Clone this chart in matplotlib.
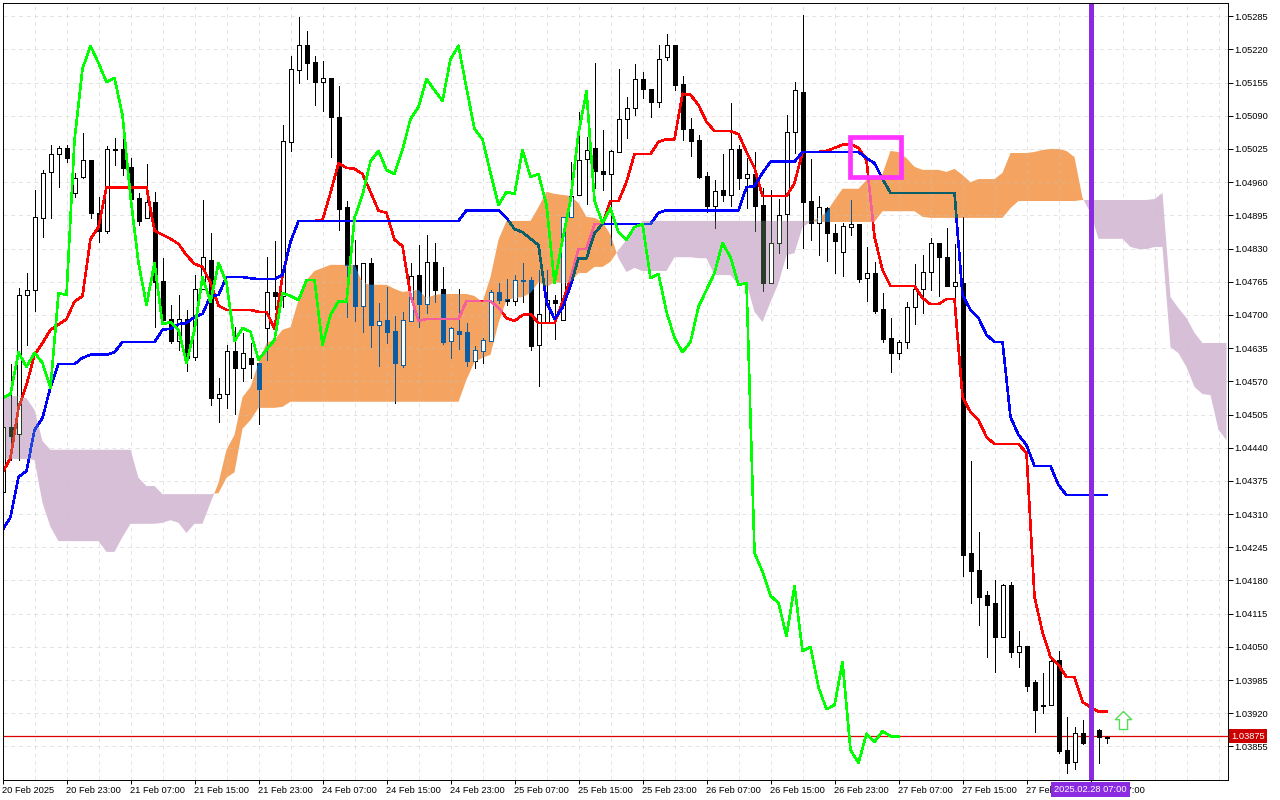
import numpy as np
from matplotlib import pyplot as plt
from matplotlib.path import Path

plt.rcParams['font.family'] = ['Liberation Sans', 'DejaVu Sans']
FS = 6.7

# all quotes are stored in points above 1.00000 (4830 means 1.04830), one entry per H1 bar
opens = [4354,4481,4467,4739,4749,4890,4980,5015,5027,4939,4970,5004,4900,4865,5025,5025,4990,4929,4890,4921,
         4767,4692,4649,4692,4618,4751,4808,4538,4546,4630,4596,4616,4606,4675,4745,4737,5039,5180,5229,5196,
         5156,5164,5088,4911,4798,4718,4802,4681,4690,4669,4602,4688,4779,4722,4804,4751,4649,4669,4667,4610,
         4630,4649,4745,4731,4727,4769,4769,4641,4684,4729,4690,4892,4935,5006,5027,4982,4976,5019,5084,5105,
         5162,5143,5117,5205,5229,5153,5064,5043,4972,4914,4945,4935,5025,4968,4976,4916,4763,4841,4898,5058,
         5137,4923,4880,4910,4861,4824,4872,4878,4773,4782,4712,4655,4626,4647,4716,4751,4784,4841,4814,4757,
         4763,4234,4201,4152,4136,4069,4172,4040,4052,3982,3936,3936,4025,3849,3825,3882,3882,3888,3874]
highs = [4514,4604,4753,4782,4945,4984,5033,5031,5033,4978,5056,5004,4931,5031,5047,5049,5007,4939,4996,4941,
         4812,4720,4739,4710,4779,4925,4861,4577,4641,4677,4665,4645,4606,4814,4845,5072,5207,5284,5256,5207,
         5197,5164,5149,4923,4847,4802,4812,4724,4755,4698,4706,4802,4837,4857,4841,4794,4677,4751,4684,4639,
         4655,4749,4763,4771,4779,4802,4775,4788,4788,4739,4892,5000,5097,5049,5194,5062,5023,5182,5127,5192,
         5176,5143,5229,5250,5229,5168,5086,5053,4980,4964,5015,5115,5033,5007,5019,4949,4945,4927,5092,5156,
         5287,5006,4933,4911,4878,4880,4925,4878,4833,4804,4743,4694,4651,4726,4800,4818,4851,4841,4870,4839,
         4892,4414,4275,4160,4181,4174,4177,4081,4052,3986,3999,4025,4042,3913,3894,3907,3897,3890,3876]
lows = [4354,4416,4416,4641,4708,4853,4890,4951,5000,4931,4968,4890,4843,4861,4994,4974,4927,4876,4890,4677,
        4690,4645,4632,4590,4612,4751,4524,4491,4518,4506,4571,4577,4487,4612,4712,4716,5021,5154,5162,5111,
        5100,5010,4867,4696,4688,4667,4638,4600,4645,4528,4598,4688,4677,4704,4726,4643,4616,4634,4600,4596,
        4606,4649,4724,4720,4720,4726,4632,4561,4684,4653,4690,4892,4935,4917,4949,4945,4837,5019,5047,5092,
        5125,5088,5107,5199,5141,5043,5012,4968,4902,4870,4923,4914,4947,4910,4865,4747,4763,4822,4792,5017,
        4831,4847,4818,4806,4782,4777,4857,4765,4727,4704,4647,4588,4614,4635,4682,4704,4749,4737,4757,4696,
        4189,4136,4093,4030,4001,4069,4030,4011,3964,3884,3921,3936,3843,3803,3810,3860,3858,3823,3862]
closes = [4481,4463,4739,4749,4892,4978,5015,5027,5007,4968,5004,4900,4865,5025,5023,4988,4927,4884,4921,4765,
          4690,4649,4692,4616,4751,4814,4538,4546,4630,4596,4626,4604,4555,4745,4737,5041,5182,5229,5194,5156,
          5164,5088,4908,4798,4718,4802,4681,4688,4667,4606,4690,4777,4722,4804,4749,4647,4675,4663,4610,4632,
          4651,4745,4729,4727,4769,4767,4639,4702,4729,4724,4892,4933,5004,5023,4982,4976,5021,5084,5105,5162,
          5143,5117,5201,5229,5151,5064,5041,4970,4914,4943,4935,5025,4968,4976,4914,4763,4841,4896,5058,5141,
          4921,4880,4911,4861,4845,4874,4878,4771,4782,4708,4653,4626,4647,4716,4751,4784,4841,4814,4757,4765,
          4230,4199,4148,4132,4069,4172,4040,4052,3974,3927,3934,4023,3847,3823,3882,3862,3874,3874,3872]

tenkan = [4391,4420,4518,4563,4622,4645,4671,4681,4692,4726,4737,4849,4872,4950,4950,4950,4950,4950,4950,4865,
          4857,4849,4839,4817,4800,4794,4763,4718,4710,4710,4710,4710,4706,4706,4673,4777,4843,4884,4884,4884,
          4886,4939,4997,4988,4986,4976,4941,4904,4900,4847,4835,4739,4688,4692,4692,4692,4692,4692,4727,4727,
          4727,4727,4714,4694,4688,4700,4702,4684,4684,4684,4725,4772,4829,4829,4878,4878,4923,4923,4960,5015,
          5015,5015,5039,5044,5044,5133,5131,5111,5078,5060,5060,5060,5054,5019,4988,4933,4933,4933,4933,4958,
          5019,5019,5019,5021,5027,5033,5035,5027,5003,4853,4788,4757,4757,4757,4757,4733,4721,4721,4731,4731,
          4539,4510,4494,4461,4447,4447,4447,4447,4430,4148,4079,4030,4015,3991,3991,3942,3932,3923,3923]
kijun = [4279,4304,4383,4394,4475,4498,4559,4604,4604,4604,4616,4622,4622,4622,4627,4647,4647,4647,4647,4647,
         4671,4673,4682,4684,4696,4702,4737,4739,4774,4774,4774,4772,4770,4770,4770,4778,4843,4884,4884,4884,
         4884,4884,4884,4884,4884,4884,4884,4884,4884,4884,4884,4884,4884,4884,4884,4884,4884,4884,4905,4905,
         4905,4905,4905,4890,4868,4862,4849,4837,4725,4692,4714,4757,4811,4811,4860,4878,4878,4878,4878,4878,
         4878,4878,4900,4905,4905,4905,4905,4905,4905,4905,4905,4905,4905,4950,4952,4978,5000,5000,5000,5000,
         5019,5019,5019,5019,5019,5019,5019,5019,5007,4997,4966,4939,4939,4939,4939,4939,4939,4939,4939,4939,
         4739,4710,4694,4661,4647,4647,4500,4465,4445,4404,4404,4404,4367,4347,4347,4347,4347,4347,4347]
chikou = [4537,4545,4627,4598,4626,4606,4557,4743,4739,5042,5182,5227,5193,5156,5164,5091,4931,4802,4719,4802,
          4682,4686,4671,4606,4671,4774,4725,4802,4763,4649,4674,4667,4612,4632,4651,4743,4737,4729,4768,4768,
          4641,4700,4727,4725,4890,4935,5001,5021,4984,4976,5023,5084,5107,5162,5140,5119,5201,5227,5144,5064,
          5044,4978,4915,4941,4937,5023,4970,4976,4915,4762,4847,4925,5056,5138,4923,4880,4909,4862,4847,4872,
          4878,4772,4780,4706,4655,4627,4647,4716,4749,4782,4841,4813,4759,4762,4234,4197,4150,4136,4071,4169,
          4042,4050,3971,3928,3936,4020,3848,3823,3880,3864,3885,3875,3875]
span_a = [4418,4418,4418,4418,4416,4332,4285,4257,4257,4257,4257,4257,4257,4236,4236,4265,4291,4291,4291,4291,
          4293,4298,4293,4273,4291,4291,4332,4371,4436,4465,4539,4559,4606,4645,4651,4671,4676,4729,4768,4786,
          4792,4798,4798,4798,4798,4763,4759,4759,4759,4751,4745,4747,4749,4733,4739,4741,4741,4741,4741,4737,
          4725,4774,4847,4884,4884,4884,4884,4911,4941,4937,4935,4933,4919,4892,4890,4882,4857,4811,4784,4792,
          4786,4786,4786,4786,4813,4813,4813,4811,4811,4778,4778,4778,4759,4762,4706,4686,4725,4762,4817,4821,
          4872,4882,4890,4901,4925,4947,4947,4947,4964,4968,4976,5021,5019,5007,4990,4984,4984,4984,4980,4986,
          4974,4960,4966,4966,4966,4978,5017,5017,5017,5019,5023,5025,5025,5021,5009,4929,4900,4849,4849,4849,
          4849,4833,4829,4829,4833,4833,4637,4625,4598,4559,4545,4543,4475,4455]
span_b = [4541,4541,4541,4537,4514,4453,4436,4436,4436,4436,4436,4436,4436,4436,4436,4436,4436,4381,4365,4365,
          4349,4349,4349,4349,4349,4349,4349,4351,4381,4392,4477,4494,4518,4518,4518,4520,4530,4530,4530,4530,
          4530,4530,4530,4530,4530,4530,4530,4530,4530,4530,4530,4530,4530,4530,4530,4530,4530,4530,4573,4608,
          4616,4622,4684,4729,4733,4735,4743,4764,4755,4764,4762,4764,4782,4782,4794,4794,4804,4827,4847,4866,
          4884,4884,4884,4884,4884,4884,4884,4884,4884,4884,4884,4884,4884,4884,4884,4884,4884,4884,4884,4884,
          4884,4884,4882,4882,4882,4882,4882,4882,4882,4882,4903,4903,4903,4903,4903,4892,4890,4890,4890,4890,
          4890,4890,4890,4890,4890,4890,4909,4923,4923,4923,4923,4923,4923,4923,4923,4925,4925,4925,4925,4925,
          4925,4925,4925,4925,4927,4939,4735,4713,4694,4665,4645,4645,4645,4645]

date_labels = ['20 Feb 2025','20 Feb 23:00','21 Feb 07:00','21 Feb 15:00','21 Feb 23:00','24 Feb 07:00',
               '24 Feb 15:00','24 Feb 23:00','25 Feb 07:00','25 Feb 15:00','25 Feb 23:00','26 Feb 07:00',
               '26 Feb 15:00','26 Feb 23:00','27 Feb 07:00','27 Feb 15:00','27 Feb 23:00','28 Feb 07:00']
price_ticks = [3855,3920,3985,4050,4115,4180,4245,4310,4375,4440,4505,4570,4635,4700,4765,4830,4895,4960,
               5025,5090,5155,5220,5285]
last_price = 3875
marked_bar = 136
marked_time = '2025.02.28 07:00'
box_bars = [105.9, 112.25]
box_prices = [4970, 5049]
arrow_bar = 140
arrow_price = 3907


def px(v):
    # quote points to a real price
    return 1 + np.asarray(v) / 1e5


def draw_candles(ax, color, z, clip=None):
    k = np.arange(len(opens))
    o, c = px(opens), px(closes)
    wicks = ax.vlines(k, px(lows), px(highs), colors=color, lw=0.7, zorder=z, antialiased=False)
    faces = ['white' if closes[i] >= opens[i] and opens[i] != closes[i] else color for i in k]
    bars = ax.bar(k, np.abs(c - o), bottom=np.minimum(o, c), width=0.5, color=faces, edgecolor=color,
                  lw=0.7, zorder=z, antialiased=False)
    if clip is not None:
        wicks.set_clip_path(clip, ax.transData)
        for b in bars:
            b.set_clip_path(clip, ax.transData)


def draw_line(ax, values, color, z, clip=None, lw=1.15):
    line, = ax.plot(np.arange(len(values)), px(values), color=color, lw=lw, zorder=z,
                    solid_joinstyle='round', antialiased=False)
    if clip is not None:
        line.set_clip_path(clip, ax.transData)


W, H = 1280, 800
fig = plt.figure(figsize=(W / 100, H / 100), dpi=100)
ax = fig.add_axes([2.5 / W, 1 - 779.5 / H, 1225 / W, 777 / H])

# cloud
k_cloud = np.arange(len(span_a))
a, b = px(span_a), px(span_b)
orange = ax.fill_between(k_cloud, a, b, where=a >= b, interpolate=True, color='#F4A460', lw=0, zorder=1)
lilac = ax.fill_between(k_cloud, a, b, where=a <= b, interpolate=True, color='#D8BFD8', lw=0, zorder=1)
orange_clip = Path.make_compound_path(*orange.get_paths())
lilac_clip = Path.make_compound_path(*lilac.get_paths())

ax.axhline(px(last_price), color='#DC0000', lw=0.9, zorder=1.8)

# candles change colour where they cross the cloud
draw_candles(ax, 'black', 2)
draw_candles(ax, '#0A5CA3', 2.1, orange_clip)
draw_candles(ax, '#2A3C2A', 2.1, lilac_clip)

draw_line(ax, tenkan, '#FF0000', 3.0)
draw_line(ax, tenkan, '#F4609C', 3.01, orange_clip)
draw_line(ax, tenkan, '#D8402C', 3.01, lilac_clip)
draw_line(ax, kijun, '#0000FF', 3.02)
draw_line(ax, kijun, '#0B5F6B', 3.03, orange_clip)
draw_line(ax, kijun, '#2040E0', 3.03, lilac_clip)
draw_line(ax, chikou, '#00FF00', 3.04)

# objects on top
ax.axvline(marked_bar, color='#8A2BE2', lw=3.6, zorder=4)
ax.add_patch(plt.Rectangle((box_bars[0], px(box_prices[0])), box_bars[1] - box_bars[0],
                           px(box_prices[1]) - px(box_prices[0]), fill=False, edgecolor='#FF33FF',
                           lw=3.4, zorder=5, joinstyle='miter'))
arrow = [(0, 1), (0.9, 0.1), (0.45, 0.1), (0.45, -1), (-0.45, -1), (-0.45, 0.1), (-0.9, 0.1), (0, 1)]
ax.plot([arrow_bar], [px(arrow_price)], marker=arrow, ms=13, mfc='white', mec='#55DD55', mew=1, zorder=5)

# axes
ax.set_xlim(0, 1225 / 8)
ax.set_ylim(px(5316.6 - 1.958 * 779.5), px(5316.6 - 1.958 * 2.5))
ax.yaxis.tick_right()
ax.set_yticks(px(price_ticks))
ax.set_yticklabels(['%.5f' % p for p in px(price_ticks)], fontsize=FS)
major = [8 * i for i in range(len(date_labels))]
ax.set_xticks(major)
ax.set_xticklabels(date_labels, fontsize=FS, ha='left')
ax.set_xticks([i for i in range(4, 153, 4) if i not in major], minor=True)
ax.tick_params(axis='y', which='major', length=3.6, width=0.7, pad=1)
ax.tick_params(axis='x', which='major', length=3, width=0.7, pad=1.5)
ax.tick_params(axis='x', which='minor', length=0)
ax.grid(True, which='both', color='#C4C4C4', alpha=0.45, lw=0.7, ls=(0, (4, 4)))
for s in ax.spines.values():
    s.set_linewidth(0.7)
    s.set_zorder(6)

ax.text(1.0028, px(last_price), '%.5f' % px(last_price), transform=ax.get_yaxis_transform(), color='white',
        fontsize=FS, va='center', ha='left', clip_on=False, zorder=7,
        bbox=dict(boxstyle='square,pad=0.25', fc='#CC0000', ec='none'))
ax.text(marked_bar, -0.0125, marked_time, transform=ax.get_xaxis_transform(), color='white', fontsize=FS,
        va='center', ha='center', clip_on=False, zorder=7,
        bbox=dict(boxstyle='square,pad=0.3', fc='#8A2BE2', ec='none'))

fig.savefig('out.png', dpi=100)
